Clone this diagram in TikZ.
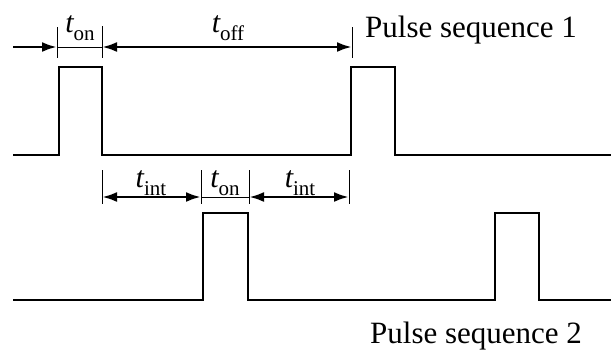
\documentclass[tikz,border=0pt]{standalone}
\usepackage{fontspec}
\setmainfont{Liberation Serif}
\usetikzlibrary{arrows.meta}
\newcommand{\tsub}[1]{{\itshape t}\raisebox{-0.28em}{\fontsize{21}{21}\selectfont #1}}
\tikzset{
  pulse/.style={line width=2.2pt, line join=miter},
  dim/.style={line width=2.8pt, {Latex[length=15pt,width=10pt]}-{Latex[length=15pt,width=10pt]}},
  dimr/.style={line width=2.8pt, -{Latex[length=15pt,width=10pt]}},
  tick/.style={line width=0.8pt},
  thin/.style={line width=0.8pt},
  lab/.style={font=\fontsize{30}{34}\selectfont, inner sep=0pt, anchor=base},
  title/.style={font=\fontsize{31}{36}\selectfont, inner sep=0pt, anchor=base west}
}
\begin{document}
\begin{tikzpicture}[x=1pt,y=-1pt]
\useasboundingbox (0,0) rectangle (611,354);
% pulse sequence 1
\draw[pulse] (13,155) -- (59,155) -- (59,67) -- (102,67) -- (102,155) -- (351,155) -- (351,67) -- (395,67) -- (395,155) -- (611,155);
% pulse sequence 2
\draw[pulse] (13,300) -- (203,300) -- (203,213) -- (248,213) -- (248,300) -- (495,300) -- (495,213) -- (539,213) -- (539,300) -- (611,300);
% row 1 ticks
\coordinate (a0) at (13,47);
\coordinate (a1) at (57,47);
\coordinate (a2) at (102,47);
\coordinate (a3) at (352,47);
\draw[tick] (57,27) -- (57,58);
\draw[tick] (102,26) -- (102,58);
\draw[tick] (352,27) -- (352,58);
\draw[dimr] (a0) -- (a1);
\draw[thin] (a1) -- (a2);
\draw[dim] (a2) -- (a3);
\node[lab] (ton1) at (80,32) {\tsub{on}};
\node[lab] (toff) at (228,32) {\tsub{off}};
\node[title] (ps1) at (365,37) {Pulse sequence 1};
% row 2 ticks
\coordinate (b0) at (102,197);
\coordinate (b1) at (201,197);
\coordinate (b2) at (249,197);
\coordinate (b3) at (349,197);
\draw[tick] (102,170) -- (102,204);
\draw[tick] (201,170) -- (201,204);
\draw[tick] (249,170) -- (249,204);
\draw[tick] (349,170) -- (349,204);
\draw[dim] (b0) -- (b1);
\draw[thin] (b1) -- (b2);
\draw[dim] (b2) -- (b3);
\node[lab] (tint1) at (151,187) {\tsub{int}};
\node[lab] (ton2) at (225,187) {\tsub{on}};
\node[lab] (tint2) at (300,187) {\tsub{int}};
\node[title] (ps2) at (370,343) {Pulse sequence 2};
\end{tikzpicture}
\end{document}
